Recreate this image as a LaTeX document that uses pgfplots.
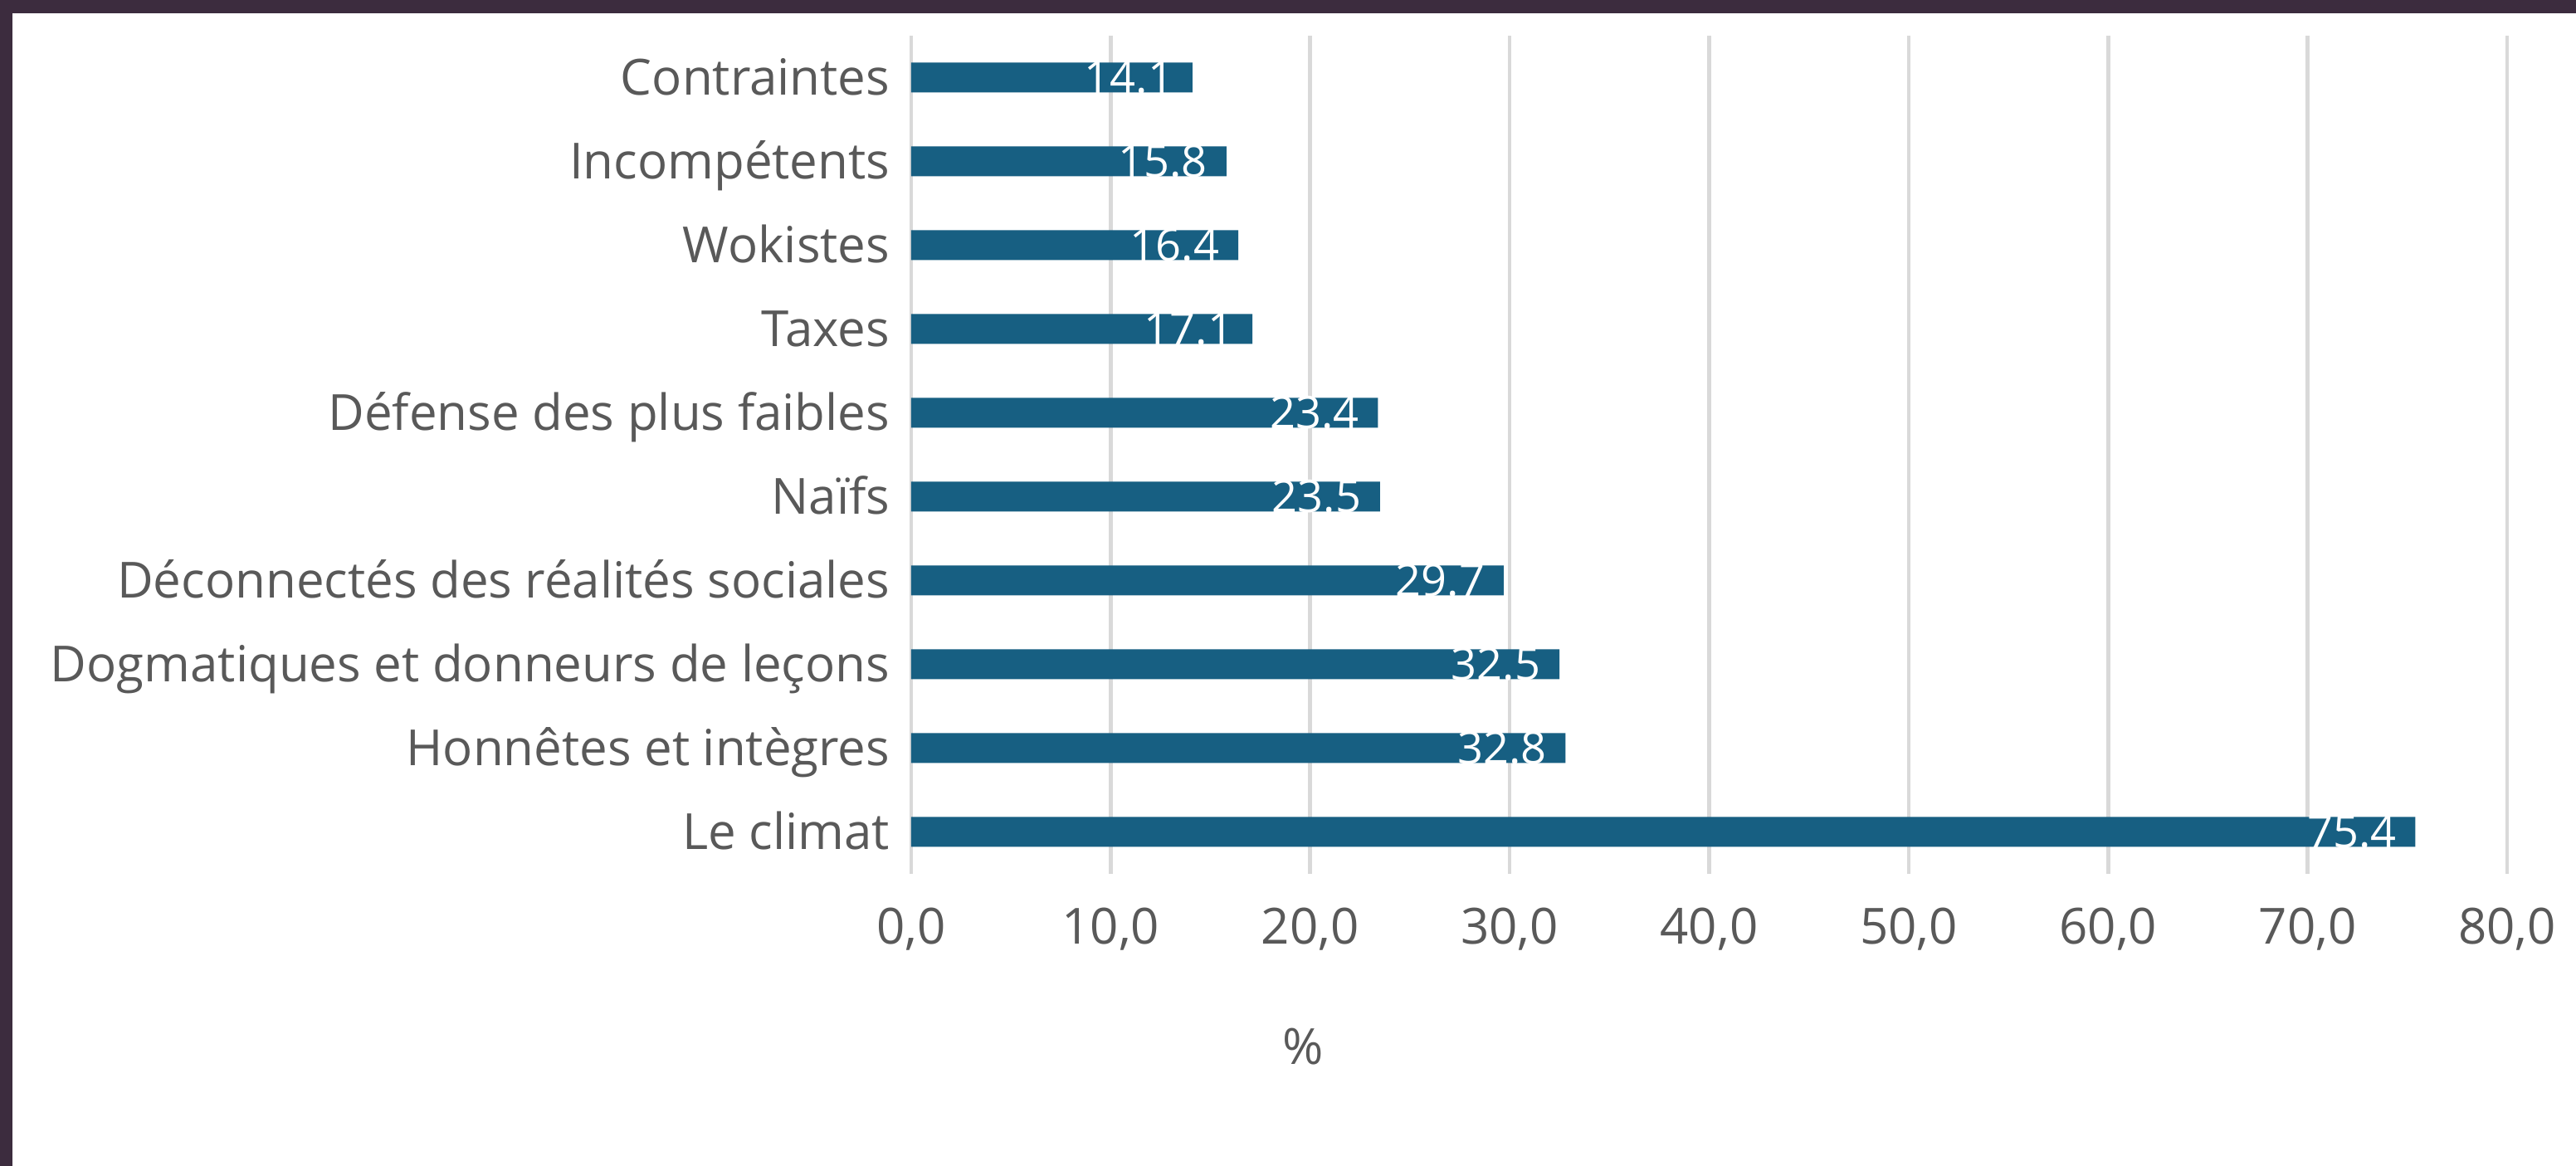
\documentclass[border=0pt]{standalone}
\usepackage{fontspec}
\setmainfont{Open Sans}
\usepackage{pgfplots}
\pgfplotsset{compat=1.18}
\definecolor{barblue}{HTML}{175F82}
\definecolor{txtgray}{HTML}{595959}
\definecolor{gridgray}{HTML}{D9D9D9}
\definecolor{framecol}{HTML}{3C2C3E}

\begin{document}
\begin{tikzpicture}
% page: 3104 x 1405 px, 1 px = 0.24pt
\path[use as bounding box, fill=white] (0pt,0pt) rectangle (744.96pt,337.2pt);
\fill[framecol] (0pt,333.36pt) rectangle (744.96pt,337.2pt);
\fill[framecol] (0pt,0pt) rectangle (3.6pt,337.2pt);
\begin{axis}[
  at={(263.52pt,84.48pt)}, anchor=south west,
  scale only axis,
  width=461.52pt, height=242.4pt,
  xbar, bar width=8.64pt,
  xmin=0, xmax=80, ymin=-0.5, ymax=9.5,
  xtick={0,10,...,80},
  ytick={0,...,9},
  yticklabels={Le climat,Honnêtes et intègres,Dogmatiques et donneurs de leçons,Déconnectés des réalités sociales,Naïfs,Défense des plus faibles,Taxes,Wokistes,Incompétents,Contraintes\ },
  axis line style={draw=none},
  major tick length=0pt,
  xmajorgrids,
  major grid style={draw=gridgray, line width=1.1pt},
  /pgf/number format/assume math mode=true,
  xticklabel style={font=\fontsize{14.4}{16}\selectfont, text=txtgray, anchor=base, inner sep=0pt, yshift=-20.2pt,
    /pgf/number format/.cd, fixed, fixed zerofill, precision=1, use comma},
  yticklabel style={font=\fontsize{14.4}{16}\selectfont, text=txtgray, anchor=base east, inner sep=0pt, xshift=-6pt, yshift=-5.14pt},
  point meta=x,
  nodes near coords={\pgfmathprintnumber[fixed,fixed zerofill,precision=1]{\pgfplotspointmeta}},
  every node near coord/.append style={anchor=base east, inner sep=0pt, xshift=-5.3pt, yshift=-4.64pt, text=white, font=\fontsize{13}{15}\selectfont},
]
\addplot[fill=barblue, draw=none] coordinates {
  (75.4,0) (32.8,1) (32.5,2) (29.7,3) (23.5,4)
  (23.4,5) (17.1,6) (16.4,7) (15.8,8) (14.1,9)
};
\end{axis}
\node[anchor=base, inner sep=0pt, text=txtgray, font=\fontsize{14.4}{16}\selectfont] at (376.8pt,29.28pt) {\%};
\end{tikzpicture}
\end{document}
